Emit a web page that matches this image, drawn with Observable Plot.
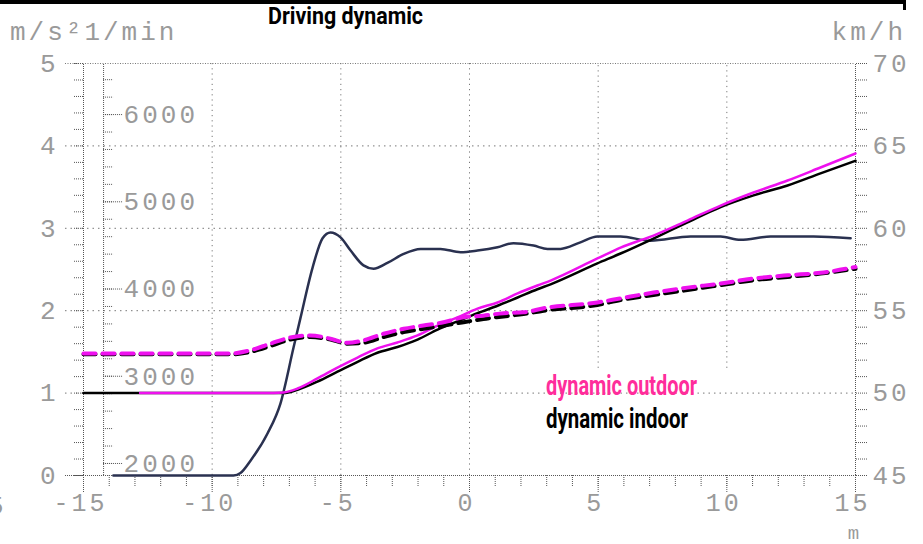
<!DOCTYPE html>
<html><head><meta charset="utf-8">
<script src="https://cdn.jsdelivr.net/npm/d3@7"></script>
<script src="https://cdn.jsdelivr.net/npm/@observablehq/plot@0.6"></script>
<style>
html,body{margin:0;padding:0;background:#fff;}
#wrap{position:relative;width:923px;height:544px;overflow:hidden;}
#wrap svg{position:absolute;left:0;top:0;}
#frame{position:absolute;left:0;top:0;width:903px;height:6px;border-top:4px solid #000;border-right:3px solid #000;z-index:2;}
</style></head>
<body><div id="wrap"><div id="frame"></div></div>
<script>
// ---- data ----
// engine speed, 1/min
const rpmX = [-13.84,-9.17,-8.90,-8.51,-7.85,-7.35,-6.84,-6.57,-6.10,-5.71,-5.40,-5.01,-4.62,-4.12,-3.73,-3.19,-2.56,-1.90,-1.13,-0.35,0.31,1.09,1.71,2.49,3.03,3.54,4.31,4.97,5.87,7.03,8.59,9.76,10.53,11.70,13.37,14.81];
const rpmVals = [1862,1862,1890,2032,2344,2684,3326,3666,4243,4583,4649,4592,4441,4271,4233,4299,4403,4460,4460,4422,4441,4479,4526,4498,4460,4460,4535,4602,4602,4554,4602,4602,4564,4602,4602,4583];
// vehicle speed, km/h
const outdoorSpeedX = [-12.8,-8.0,-7.23,-6.68,-5.91,-5.13,-4.35,-3.58,-2.80,-2.02,-1.24,-0.47,0.31,1.09,1.87,2.64,3.15,4.97,5.87,7.15,8.47,9.76,11.04,12.36,13.64,15.0];
const outdoorSpeed = [50.0,50.0,50.04,50.28,50.89,51.55,52.16,52.71,53.07,53.50,54.10,54.59,55.13,55.50,56.05,56.53,56.83,58.17,58.83,59.56,60.47,61.38,62.17,62.90,63.69,64.54];
const indoorSpeedX = [-15.0,-8.0,-7.23,-6.68,-5.91,-5.13,-4.35,-3.58,-2.80,-2.02,-1.24,-0.47,0.31,1.09,1.87,2.64,3.15,4.97,5.87,7.15,8.47,9.76,11.04,12.36,13.64,15.0];
const indoorSpeed = [50.0,50.0,50.0,50.2,50.7,51.3,51.9,52.45,52.8,53.25,53.85,54.35,54.85,55.3,55.8,56.3,56.6,57.87,58.47,59.38,60.36,61.29,62.0,62.6,63.33,64.1];
// acceleration, m/s²
const accX = [-15,-9.3,-8.51,-7.74,-6.96,-6.18,-5.40,-4.74,-4.12,-3.34,-2.56,-1.79,-1.01,-0.23,0.54,1.32,2.10,2.88,4.97,5.87,7.15,8.47,9.76,11.04,12.36,13.64,15.0];
const outdoorAcc = [1.48,1.48,1.52,1.60,1.675,1.70,1.66,1.61,1.64,1.72,1.78,1.82,1.86,1.92,1.94,1.97,1.98,2.03,2.10,2.15,2.22,2.28,2.33,2.39,2.43,2.46,2.53];
const indoorAcc = [1.47,1.47,1.50,1.57,1.65,1.68,1.65,1.60,1.61,1.68,1.74,1.78,1.82,1.86,1.90,1.93,1.96,2.00,2.07,2.13,2.19,2.25,2.31,2.37,2.41,2.45,2.51];

// ---- tick labels ----
const accTicks = [0,1,2,3,4,5];
const kmhTicks = [45,50,55,60,65,70];
const rpmTicks = [2000,3000,4000,5000,6000];
const xTicks = [-15,-10,-5,0,5,10,15];
const legendLabels = ["dynamic outdoor","dynamic indoor"];
const title = "Driving dynamic";

// ---- mappings onto the common (m/s²) scale ----
const rpmToU = r => 0.146 + (r - 2000) / 944.7;
const kmhToU = k => (k - 45) / 5;
const rpmAxisX = -14.22;

const rpmData = rpmX.map((x,i)=>({x, v: rpmToU(rpmVals[i])}));
const outSpd = outdoorSpeedX.map((x,i)=>({x, v: kmhToU(outdoorSpeed[i])}));
const inSpd = indoorSpeedX.map((x,i)=>({x, v: kmhToU(indoorSpeed[i])}));
const outAcc = accX.map((x,i)=>({x, v: outdoorAcc[i]}));
const inAcc = accX.map((x,i)=>({x, v: indoorAcc[i]}));

const yMinor = d3.range(0, 5.001, 0.2);
const xMinor = d3.range(-15, 15.001, 1);
const rpmMinor = d3.range(2000, 6401, 200);

const mono = "'Liberation Mono','DejaVu Sans Mono',monospace";
const gray = "#9a9a9a";
const axisCol = "#555";
const MAG = "#ee11ee";

const chart = Plot.plot({
  width: 923, height: 544,
  marginLeft: 83, marginRight: 68, marginTop: 63, marginBottom: 69,
  x: {domain: [-15, 15], axis: null},
  y: {domain: [0, 5], axis: null},
  style: {fontFamily: mono, background: "white", overflow: "visible"},
  marks: [
    // grid
    Plot.ruleY([1,2,3,4], {x1: -15.7, x2: 15, stroke: "#777", strokeDasharray: "1.5,4"}),
    Plot.ruleY([5], {x1: -15.7, x2: 15, stroke: "#777", strokeDasharray: "1,1.5"}),
    Plot.ruleX([-10,-5,0], {y1: 0, y2: 5, stroke: "#777", strokeDasharray: "1.2,4"}),
    Plot.ruleX([5,10], {y1: 1.3, y2: 5, stroke: "#777", strokeDasharray: "1.2,4"}),
    // axis lines
    Plot.ruleX([-15, 15], {y1: 0, y2: 5, stroke: axisCol, strokeDasharray: "1,1"}),
    Plot.ruleX([rpmAxisX], {y1: 0, y2: 5, stroke: axisCol, strokeDasharray: "1,1"}),
    Plot.ruleY([0], {x1: -15.7, x2: 15, stroke: axisCol, strokeDasharray: "1,1"}),
    // left axis
    Plot.axisY(yMinor, {anchor: "left", label: null, tickSize: 10, tickFormat: () => "", stroke: axisCol, strokeDasharray: "1,1"}),
    Plot.axisY(accTicks, {anchor: "left", label: null, tickSize: 0, tickPadding: 25, color: gray, fontSize: 26, tickFormat: d => String(d)}),
    // rpm axis
    Plot.ruleY(rpmMinor, {y: rpmToU, x1: rpmAxisX, x2: rpmAxisX + 0.39, stroke: axisCol, strokeDasharray: "1,1"}),
    Plot.ruleY(rpmTicks, {y: rpmToU, x1: rpmAxisX, x2: rpmAxisX + 0.74, stroke: axisCol, strokeDasharray: "1,1"}),
    Plot.text(rpmTicks, {y: rpmToU, x: rpmAxisX, dx: 20, text: d => String(d), textAnchor: "start", fill: gray, fontSize: 26}),
    // right axis
    Plot.axisY(yMinor, {anchor: "right", label: null, tickSize: 12, tickFormat: () => "", stroke: axisCol, strokeDasharray: "1,1"}),
    Plot.axisY(kmhTicks.map(kmhToU), {anchor: "right", label: null, tickSize: 0, tickPadding: 17, color: gray, fontSize: 26, tickFormat: u => String(Math.round(45 + 5*u))}),
    // bottom axis
    Plot.axisX(xMinor, {anchor: "bottom", label: null, tickSize: 12, tickFormat: () => "", stroke: axisCol, strokeDasharray: "1,1"}),
    Plot.axisX(xTicks, {anchor: "bottom", label: null, tickSize: 17, tickFormat: () => "", stroke: axisCol, strokeDasharray: "1,1"}),
    Plot.axisX(xTicks, {anchor: "bottom", label: null, tickSize: 0, tickPadding: 18, color: gray, fontSize: 25, dx: -3, tickFormat: d => d < 0 ? "-" + Math.abs(d) : String(d)}),
    // series
    Plot.line(rpmData, {x: "x", y: "v", stroke: "#2a3150", strokeWidth: 2.5, curve: "monotone-x"}),
    Plot.line(inSpd, {x: "x", y: "v", stroke: "#000", strokeWidth: 2.5, curve: "monotone-x"}),
    Plot.line(outSpd, {x: "x", y: "v", stroke: MAG, strokeWidth: 2.5, curve: "monotone-x"}),
    Plot.line(inAcc, {x: "x", y: "v", stroke: "#000", strokeWidth: 4, strokeDasharray: "12,7", curve: "monotone-x"}),
    Plot.line(outAcc, {x: "x", y: "v", stroke: MAG, strokeWidth: 4, strokeDasharray: "12,7", curve: "monotone-x"})
  ]
});

document.getElementById("wrap").appendChild(chart);
const svg = d3.select(chart);
svg.selectAll("text").style("letter-spacing", "3px");

// units
const addMono = (x, y, t, anchor, size) => svg.append("text").attr("x", x).attr("y", y).attr("text-anchor", anchor || "start")
  .attr("font-family", mono).attr("font-size", size || 26).attr("fill", gray).style("letter-spacing", "3px").text(t);
addMono(10, 40, "m/s²1/min");
addMono(906, 40, "km/h", "end");
addMono(855, 539, "m", "middle", 19);
addMono(-12, 514, "5");

// title and legend
const addBold = (x, y, t, size, len, fill) => svg.append("text").attr("x", x).attr("y", y).attr("text-anchor", "start")
  .attr("font-family", "Roboto, 'Open Sans', sans-serif").attr("font-weight", 700).attr("font-size", size)
  .attr("fill", fill).attr("textLength", len).attr("lengthAdjust", "spacingAndGlyphs").text(t);
addBold(268, 24, title, 24, 155, "#000");
addBold(546, 395, legendLabels[0], 27, 151, "#ff2d9b");
addBold(546, 428, legendLabels[1], 27, 142, "#000");
</script>
</body></html>
